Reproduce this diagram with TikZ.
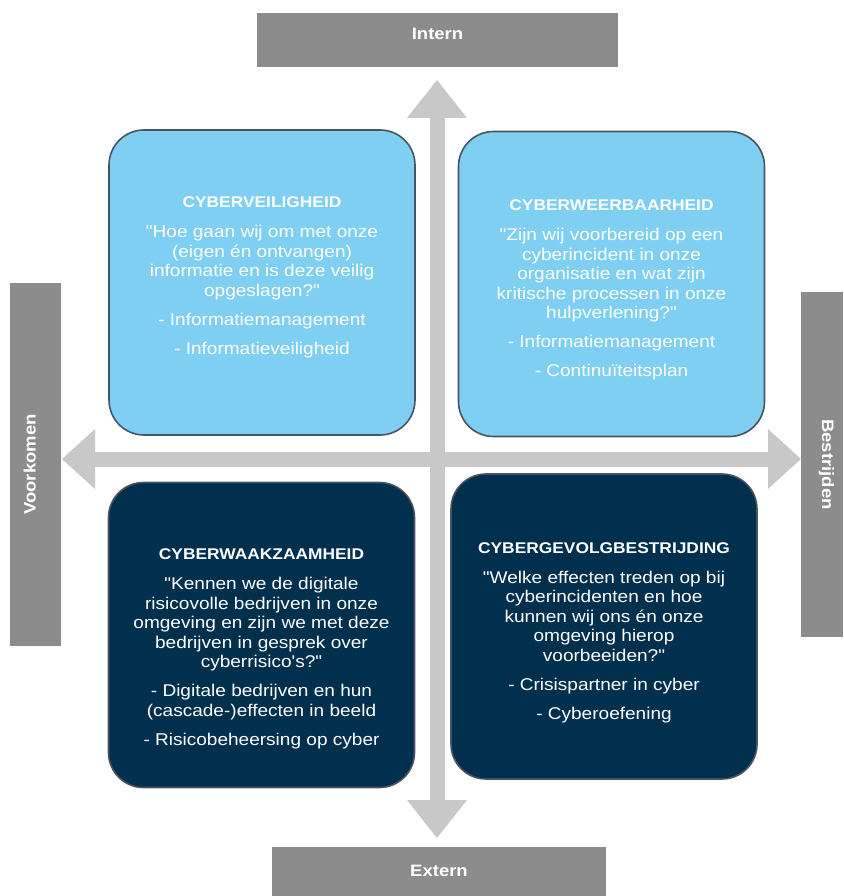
\documentclass[tikz,border=0pt]{standalone}
\usepackage{fontspec}
\setmainfont{Liberation Sans}[FakeStretch=1.12, Ligatures=TeXOff]
\usepackage{tikz}
\usetikzlibrary{positioning, arrows.meta, calc}

\definecolor{quadlight}{HTML}{7FCFF2}
\definecolor{quaddark}{HTML}{01304E}
\definecolor{axisgray}{HTML}{8C8C8C}
\definecolor{arrowgray}{HTML}{C8C8C8}
\definecolor{rimgray}{HTML}{4A5360}

\def\titlefont{\fontsize{15.5}{19.5}\bfseries\selectfont}
\def\bodyfont{\fontsize{17}{19.5}\selectfont}

\begin{document}
\begin{tikzpicture}[x=1pt, y=-1pt,
    quadbox/.style={draw=rimgray, line width=1.6pt, fill=#1, rounded corners=35pt,
        minimum width=306pt, minimum height=305pt, inner sep=0pt},
    quadtext/.style={text=white, align=center, font=\bodyfont, inner sep=0pt},
    axisbox/.style={fill=axisgray, text=white, font=\fontsize{16.5}{20}\bfseries\selectfont,
        text height=13pt, text depth=13pt, inner sep=0pt},
    axisarrow/.style={arrowgray, line width=15pt,
        {Triangle[width=60pt, length=#1, line width=0pt]}-{Triangle[width=60pt, length=#1, line width=0pt]}}
]
    \useasboundingbox (0,0) rectangle (843,896);

    % axis labels
    \node[axisbox, minimum width=361pt, minimum height=54pt] (intern) at (437.5,40) {Intern};
    \node[axisbox, minimum width=334pt, minimum height=58pt] (extern) at (439,876) {Extern};
    \node[axisbox, rotate=90, minimum width=363pt, minimum height=51pt] (voorkomen) at (35.5,464.5) {Voorkomen};
    \node[axisbox, rotate=-90, minimum width=345pt, minimum height=42pt] (bestrijden) at (822,464.5) {Bestrijden};

    % arrow tips
    \coordinate (north tip) at (437,80);
    \coordinate (south tip) at (437,838);
    \coordinate (west tip) at (62,459);
    \coordinate (east tip) at (801,459);

    % draw axes
    \draw[axisarrow=38pt] (south tip) -- (north tip);
    \draw[axisarrow=33pt] (west tip) -- (east tip);

    % quadrants
    \node[quadbox=quadlight] (veilig) at (262,282.5) {};
    \node[quadbox=quadlight] (weerbaar) at (611.5,284) {};
    \node[quadbox=quaddark] (waakzaam) at (261.5,635) {};
    \node[quadbox=quaddark] (gevolg) at (604,626.5) {};

    \node[quadtext] (veilig text) at ([yshift=5pt]veilig.center) {%
        {\titlefont CYBERVEILIGHEID}\\[10.5pt]
        "Hoe gaan wij om met onze\\
        (eigen én ontvangen)\\
        informatie en is deze veilig\\
        opgeslagen?"\\[9.5pt]
        - Informatiemanagement\\[9.5pt]
        - Informatieveiligheid};
    \node[quadtext] (weerbaar text) at ([yshift=-6pt]weerbaar.center) {%
        {\titlefont CYBERWEERBAARHEID}\\[10.5pt]
        "Zijn wij voorbereid op een\\
        cyberincident in onze\\
        organisatie en wat zijn\\
        kritische processen in onze\\
        hulpverlening?"\\[9.5pt]
        - Informatiemanagement\\[9.5pt]
        - Continuïteitsplan};
    \node[quadtext] (waakzaam text) at ([yshift=-14pt]waakzaam.center) {%
        {\titlefont CYBERWAAKZAAMHEID}\\[10.5pt]
        "Kennen we de digitale\\
        risicovolle bedrijven in onze\\
        omgeving en zijn we met deze\\
        bedrijven in gesprek over\\
        cyberrisico's?"\\[9.5pt]
        - Digitale bedrijven en hun\\
        (cascade-)effecten in beeld\\[9.5pt]
        - Risicobeheersing op cyber};
    \node[quadtext] (gevolg text) at ([yshift=-6pt]gevolg.center) {%
        {\titlefont CYBERGEVOLGBESTRIJDING}\\[10.5pt]
        "Welke effecten treden op bij\\
        cyberincidenten en hoe\\
        kunnen wij ons én onze\\
        omgeving hierop\\
        voorbeeiden?"\\[9.5pt]
        - Crisispartner in cyber\\[9.5pt]
        - Cyberoefening};
\end{tikzpicture}
\end{document}
